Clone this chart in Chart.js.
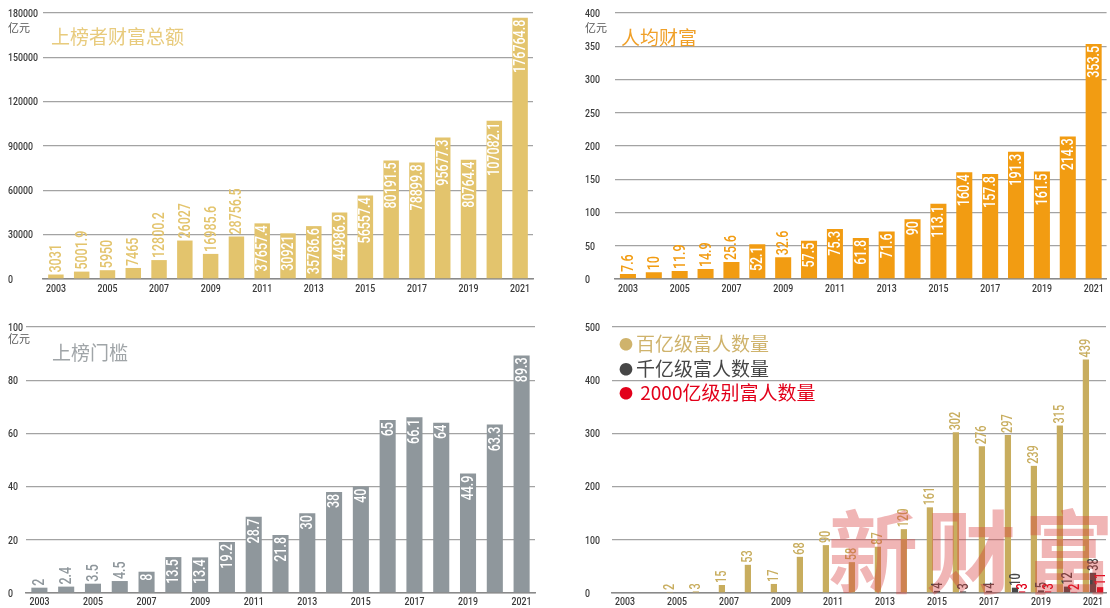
<!DOCTYPE html>
<html>
<head>
<meta charset="utf-8">
<script src="https://cdn.jsdelivr.net/npm/chart.js@4"></script>
<style>
    body { margin: 0; background: #fff; width: 1110px; height: 608px; overflow: hidden; position: relative; }
    canvas { position: absolute; }
    .txt { position: absolute; font-family: "Noto Sans CJK SC", sans-serif; white-space: nowrap; line-height: 1; }
    .unit { font-size: 11px; color: #555; }
    .title { font-size: 19px; }
    .dot { font-size: 14px; margin-right: 3px; vertical-align: 2px; }
    .mark { position: absolute; left: 828px; top: 502px; font-family: "Noto Sans CJK SC", sans-serif; font-weight: 700;
        font-size: 90px; letter-spacing: 8px; color: rgba(215, 60, 60, 0.38); line-height: 1; white-space: nowrap;
        pointer-events: none; }
</style>
</head>
<body>
<canvas id="cTotal" width="555" height="305" style="left:0;top:0"></canvas>
<canvas id="cAvg" width="555" height="305" style="left:555px;top:0"></canvas>
<canvas id="cLine" width="555" height="303" style="left:0;top:305px"></canvas>
<canvas id="cRich" width="555" height="303" style="left:555px;top:305px"></canvas>

<div class="txt unit" style="left:8px;top:22px">亿元</div>
<div class="txt title" style="left:51px;top:26px;color:#e8cb7d">上榜者财富总额</div>
<div class="txt unit" style="left:585px;top:22px">亿元</div>
<div class="txt title" style="left:621px;top:27px;color:#f0a028">人均财富</div>
<div class="txt unit" style="left:8px;top:333px">亿元</div>
<div class="txt title" style="left:52px;top:342px;color:#a0a5a8">上榜门槛</div>
<div class="txt title" style="left:619px;top:333px;color:#cfb36c"><span class="dot">●</span>百亿级富人数量</div>
<div class="txt title" style="left:619px;top:358px;color:#464646"><span class="dot">●</span>千亿级富人数量</div>
<div class="txt title" style="left:619px;top:382px;color:#e2001a"><span class="dot">●</span> 2000亿级别富人数量</div>
<div class="mark">新财富</div>

<script>
const years = ['2003', '2004', '2005', '2006', '2007', '2008', '2009', '2010', '2011', '2012',
    '2013', '2014', '2015', '2016', '2017', '2018', '2019', '2020', '2021']

// 上榜者财富总额 (亿元)
const totalWealth = [3031, 5001.9, 5950, 7465, 12800.2, 26027, 16985.6, 28756.5, 37657.4, 30921,
    35786.6, 44986.9, 56557.4, 80191.5, 78899.8, 95677.3, 80764.4, 107082.1, 176764.8]
// 人均财富 (亿元)
const avgWealth = [7.6, 10, 11.9, 14.9, 25.6, 52.1, 32.6, 57.5, 75.3, 61.8,
    71.6, 90, 113.1, 160.4, 157.8, 191.3, 161.5, 214.3, 353.5]
// 上榜门槛 (亿元)
const threshold = [2, 2.4, 3.5, 4.5, 8, 13.5, 13.4, 19.2, 28.7, 21.8,
    30, 38, 40, 65, 66.1, 64, 44.9, 63.3, 89.3]
// 富人数量
const richBaiYi = [null, null, 2, 3, 15, 53, 17, 68, 90, 58,
    87, 120, 161, 302, 276, 297, 239, 315, 439]
const richQianYi = [null, null, null, null, null, null, null, null, null, null,
    null, null, 4, 3, 4, 10, 5, 12, 38]
const rich2000 = [null, null, null, null, null, null, null, null, null, null,
    null, null, null, null, null, 3, 3, 2, 11]

const numFont = 'Roboto, "DejaVu Sans", sans-serif'
const squeeze = 0.78   // the original uses a condensed face, so text is narrowed by hand

function narrowText(ctx, text, x, y, sx) {
    ctx.save()
    ctx.translate(x, y)
    ctx.scale(sx, 1)
    ctx.fillText(text, 0, 0)
    ctx.restore()
}

// rotated value labels: inside the bar in white when it fits, otherwise above in bar colour
const barLabels = {
    id: 'barLabels',
    afterDatasetsDraw(chart, args, opts) {
        const ctx = chart.ctx
        ctx.save()
        ctx.font = '500 ' + opts.size + 'px ' + numFont
        ctx.textBaseline = 'middle'
        chart.data.datasets.forEach((ds, di) => {
            const meta = chart.getDatasetMeta(di)
            meta.data.forEach((bar, i) => {
                const v = ds.data[i]
                if (v == null) return
                const text = String(v)
                const w = ctx.measureText(text).width * squeeze
                const h = bar.base - bar.y
                ctx.save()
                if (opts.inside && w + 4 <= h) {
                    ctx.translate(bar.x, bar.y + 2)
                    ctx.textAlign = 'right'
                    ctx.fillStyle = '#fff'
                } else {
                    ctx.translate(bar.x, bar.y - 2)
                    ctx.textAlign = 'left'
                    ctx.fillStyle = ds.backgroundColor
                }
                ctx.rotate(-Math.PI / 2)
                narrowText(ctx, text, 0, 1, squeeze)
                ctx.restore()
            })
        })
        ctx.restore()
    }
}

// tick labels in the narrow face, placed from the chart's own scales
const narrowTicks = {
    id: 'narrowTicks',
    afterDraw(chart, args, opts) {
        const ctx = chart.ctx
        const xs = chart.scales.x, ys = chart.scales.y
        ctx.save()
        ctx.font = '500 11px ' + numFont
        ctx.fillStyle = '#3a3a3a'
        ctx.textBaseline = 'middle'
        ctx.textAlign = 'left'
        ys.ticks.forEach((t, i) => {
            narrowText(ctx, String(t.value), ys.left, ys.getPixelForTick(i) + 1, 0.8)
        })
        ctx.textAlign = 'center'
        ctx.textBaseline = 'top'
        xs.ticks.forEach((t, i) => {
            if (i % 2 !== 0) return
            narrowText(ctx, years[i], xs.getPixelForTick(i), xs.top + opts.gap, 0.8)
        })
        ctx.restore()
    }
}

function makePanel(id, datasets, p) {
    return new Chart(document.getElementById(id), {
        type: 'bar',
        data: { labels: years, datasets: datasets },
        plugins: [barLabels, narrowTicks],
        options: {
            responsive: false,
            animation: false,
            devicePixelRatio: 1,
            layout: { padding: p.padding },
            plugins: {
                legend: { display: false },
                tooltip: { enabled: false },
                barLabels: { inside: p.inside, size: p.labelSize },
                narrowTicks: { gap: p.gap }
            },
            scales: {
                x: {
                    grid: { display: false, drawTicks: false },
                    border: { color: '#8a8a8a', width: 1.5 },
                    ticks: { autoSkip: false, maxRotation: 0, color: 'rgba(0,0,0,0)' },
                    afterFit: (s) => { s.height = p.xHeight }
                },
                y: {
                    min: 0, max: p.max,
                    grid: { color: '#a3a3a3', lineWidth: 1.3, drawTicks: false },
                    border: { display: false },
                    ticks: {
                        stepSize: p.step, crossAlign: 'far', padding: 0, color: 'rgba(0,0,0,0)',
                        callback: (v) => String(v)
                    },
                    afterFit: (s) => { s.width = p.yWidth }
                }
            }
        }
    })
}

makePanel('cTotal', [{
    data: totalWealth, backgroundColor: '#e3c46d',
    barPercentage: 0.6, categoryPercentage: 1
}], { padding: { left: 8, top: 13, right: 22, bottom: 0 }, yWidth: 35, xHeight: 26, gap: 5, max: 180000, step: 30000, inside: true, labelSize: 16 })

makePanel('cAvg', [{
    data: avgWealth, backgroundColor: '#f29c12',
    barPercentage: 0.62, categoryPercentage: 1
}], { padding: { left: 30, top: 13, right: 0, bottom: 0 }, yWidth: 30, xHeight: 26, gap: 5, max: 400, step: 50, inside: true, labelSize: 16 })

makePanel('cLine', [{
    data: threshold, backgroundColor: '#8f979c',
    barPercentage: 0.6, categoryPercentage: 1
}], { padding: { left: 8, top: 22, right: 20, bottom: 0 }, yWidth: 18, xHeight: 15, gap: 4, max: 100, step: 20, inside: true, labelSize: 16 })

makePanel('cRich', [
    { data: richBaiYi, backgroundColor: '#c8ad5e', barPercentage: 0.88, categoryPercentage: 0.82 },
    { data: richQianYi, backgroundColor: '#474747', barPercentage: 0.88, categoryPercentage: 0.82 },
    { data: rich2000, backgroundColor: '#e2001a', barPercentage: 0.88, categoryPercentage: 0.82 }
], { padding: { left: 30, top: 22, right: 4, bottom: 0 }, yWidth: 27, xHeight: 15, gap: 4, max: 500, step: 100, inside: false, labelSize: 14 })
</script>
</body>
</html>
